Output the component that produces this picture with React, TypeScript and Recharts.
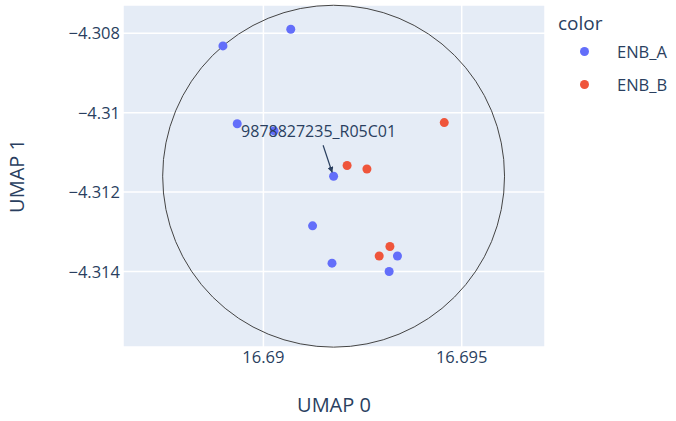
import {
  CartesianGrid,
  ReferenceDot,
  Scatter,
  ScatterChart,
  XAxis,
  YAxis,
} from "recharts";

const GROUP_A_X = [16.69069, 16.68898, 16.68934, 16.69027, 16.69177, 16.69124, 16.69173, 16.69338, 16.69317];
const GROUP_A_Y = [-4.3079, -4.30832, -4.31028, -4.31046, -4.3116, -4.31285, -4.31379, -4.31361, -4.314];
const GROUP_B_X = [16.69456, 16.69211, 16.69261, 16.69319, 16.69292];
const GROUP_B_Y = [-4.31025, -4.31133, -4.31142, -4.31337, -4.31361];

const X_TICKS = [16.69, 16.695];
const Y_TICKS = [-4.308, -4.31, -4.312, -4.314];
const X_DOMAIN = [16.68646, 16.6971];
const Y_DOMAIN = [-4.3159, -4.30729];

const ANNOTATION_LABEL = "9878827235_R05C01";
const ANNOTATION_X = 16.69177;
const ANNOTATION_Y = -4.3116;
const CIRCLE_RADIUS = 0.00431;

const SERIES = [
  { name: "ENB_A", color: "#636efa", xs: GROUP_A_X, ys: GROUP_A_Y },
  { name: "ENB_B", color: "#EF553B", xs: GROUP_B_X, ys: GROUP_B_Y },
];

const WIDTH = 676;
const HEIGHT = 421;
const MARGIN = { top: 5, right: 131, bottom: 0, left: 0 };
const Y_AXIS_WIDTH = 123;
const X_AXIS_HEIGHT = 74;
const PLOT_WIDTH = WIDTH - MARGIN.left - MARGIN.right - Y_AXIS_WIDTH;
const PX_PER_UNIT = PLOT_WIDTH / (X_DOMAIN[1] - X_DOMAIN[0]);

const FONT = "'Open Sans', 'Noto Sans', sans-serif";
const TEXT_COLOR = "#2a3f5f";

const fmt = (v: number) => String(v).replace("-", "\u2212");

function XTick({ x, y, payload }: any) {
  return (
    <text x={x} y={y + 14} textAnchor="middle" fill={TEXT_COLOR} fontSize={16.5} fontFamily={FONT}>
      {fmt(payload.value)}
    </text>
  );
}

function YTick({ x, y, payload }: any) {
  return (
    <text x={x} y={y} dy={6} textAnchor="end" fill={TEXT_COLOR} fontSize={16.5} fontFamily={FONT}>
      {fmt(payload.value)}
    </text>
  );
}

function Dot({ cx, cy, fill }: any) {
  return <circle cx={cx} cy={cy} r={4.5} fill={fill} />;
}

function Ring({ cx, cy }: any) {
  return <circle cx={cx} cy={cy} r={CIRCLE_RADIUS * PX_PER_UNIT} fill="none" stroke="#444" strokeWidth={1} />;
}

function Callout({ cx, cy }: any) {
  return (
    <g>
      <defs>
        <marker id="arrowhead" viewBox="0 0 10 10" refX="9" refY="5" markerWidth="5" markerHeight="5" orient="auto">
          <path d="M0,0 L10,5 L0,10 Z" fill="#2a3f5f" />
        </marker>
      </defs>
      <line
        x1={cx - 10.5}
        y1={cy - 31}
        x2={cx - 1.5}
        y2={cy - 4}
        stroke="#2a3f5f"
        strokeWidth={1.2}
        markerEnd="url(#arrowhead)"
      />
      <text x={cx - 15} y={cy - 39} textAnchor="middle" fill={TEXT_COLOR} fontSize={16} fontFamily={FONT}>
        {ANNOTATION_LABEL}
      </text>
    </g>
  );
}

function LegendBox() {
  return (
    <div style={{ position: "absolute", left: 558, top: 11, width: 118, fontFamily: FONT, color: TEXT_COLOR }}>
      <div style={{ fontSize: 19, lineHeight: "24px" }}>color</div>
      {SERIES.map((s) => (
        <div key={s.name} style={{ display: "flex", alignItems: "center", height: 33, fontSize: 16.5 }}>
          <span
            style={{
              display: "inline-block",
              width: 9,
              height: 9,
              borderRadius: "50%",
              background: s.color,
              marginLeft: 22,
              marginRight: 28,
            }}
          />
          {s.name}
        </div>
      ))}
    </div>
  );
}

export default function App() {
  return (
    <div style={{ position: "absolute", left: 0, top: 0, width: WIDTH, height: HEIGHT, background: "#fff" }}>
      <ScatterChart width={WIDTH} height={HEIGHT} margin={MARGIN}>
        <CartesianGrid fill="#E5ECF6" stroke="#ffffff" strokeWidth={1.5} />
        <XAxis
          type="number"
          dataKey="x"
          domain={X_DOMAIN}
          ticks={X_TICKS}
          allowDataOverflow
          height={X_AXIS_HEIGHT}
          axisLine={false}
          tickLine={false}
          tickSize={0}
          tick={<XTick />}
          label={{ value: "UMAP 0", position: "insideBottom", offset: 9, fill: TEXT_COLOR, fontSize: 20, fontFamily: FONT }}
        />
        <YAxis
          type="number"
          dataKey="y"
          domain={Y_DOMAIN}
          ticks={Y_TICKS}
          allowDataOverflow
          width={Y_AXIS_WIDTH}
          axisLine={false}
          tickLine={false}
          tickSize={0}
          tickMargin={3}
          tick={<YTick />}
          label={{
            value: "UMAP 1",
            angle: -90,
            position: "insideLeft",
            offset: 17,
            style: { textAnchor: "middle" },
            fill: TEXT_COLOR,
            fontSize: 20,
            fontFamily: FONT,
          }}
        />
        <ReferenceDot x={ANNOTATION_X} y={ANNOTATION_Y} shape={<Ring />} ifOverflow="visible" />
        {SERIES.map((s) => (
          <Scatter
            key={s.name}
            name={s.name}
            data={s.xs.map((x, i) => ({ x, y: s.ys[i] }))}
            fill={s.color}
            shape={<Dot />}
            isAnimationActive={false}
          />
        ))}
        <ReferenceDot x={ANNOTATION_X} y={ANNOTATION_Y} shape={<Callout />} ifOverflow="visible" />
      </ScatterChart>
      <LegendBox />
    </div>
  );
}
